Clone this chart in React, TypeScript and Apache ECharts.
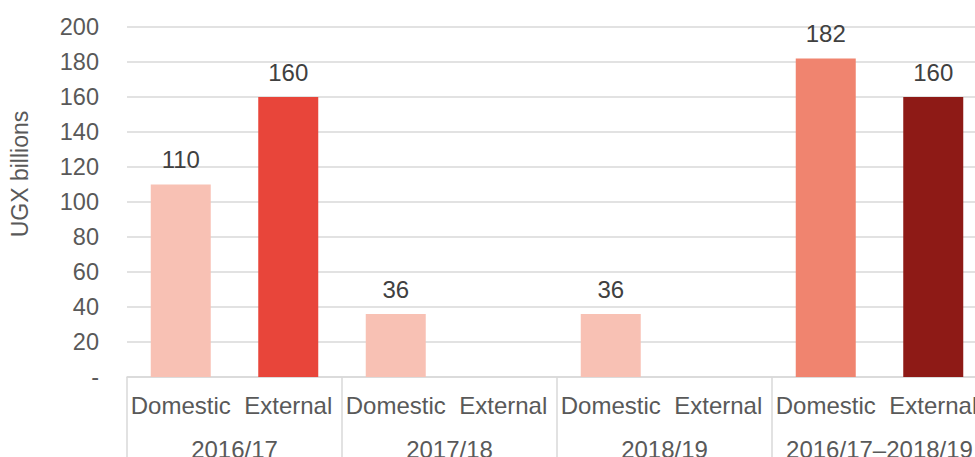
import React, { useEffect, useRef } from "react";
import * as echarts from "echarts";

// Funding by source and year, UGX billions
const years = ["2016/17", "2017/18", "2018/19", "2016/17–2018/19"];
const sources = ["Domestic", "External"];
const categories = years.flatMap((y) => sources.map((s) => `${s}|${y}`));
const values: (number | null)[] = [110, 160, 36, null, 36, null, 182, 160];
const barColors = ["#F8C1B4", "#E8453A", "#F8C1B4", "#E8453A", "#F8C1B4", "#E8453A", "#F0846F", "#8E1A16"];
const yTicks = { min: 0, max: 200, interval: 20 };

const FONT = "Liberation Sans, Arial, sans-serif";
const FS = 24;

export default function App() {
  const ref = useRef<HTMLDivElement>(null);

  useEffect(() => {
    if (!ref.current) return;
    const chart = echarts.init(ref.current, null, { renderer: "svg" });
    chart.setOption({
      animation: false,
      backgroundColor: "#ffffff",
      textStyle: { fontFamily: FONT },
      grid: {
        left: 127,
        right: 0,
        top: 27,
        bottom: 80,
        containLabel: false,
        outerBoundsMode: "none",
      },
      xAxis: [
        {
          type: "category",
          data: categories,
          position: "bottom",
          axisLine: { show: true, lineStyle: { color: "#d9d9d9", width: 1.5 } },
          axisTick: {
            show: true,
            length: 80,
            interval: (i: number) => i % 2 === 0,
            lineStyle: { color: "#d9d9d9", width: 1.5 },
          },
          axisLabel: {
            interval: 0,
            margin: 16,
            color: "#595959",
            fontSize: FS,
            fontFamily: FONT,
            formatter: (v: string) => v.split("|")[0],
          },
        },
        {
          type: "category",
          data: years,
          position: "bottom",
          gridIndex: 0,
          axisLine: { show: false },
          axisTick: { show: false },
          axisLabel: {
            interval: 0,
            margin: 60,
            color: "#595959",
            fontSize: FS,
            fontFamily: FONT,
          },
        },
      ],
      yAxis: {
        type: "value",
        min: yTicks.min,
        max: yTicks.max,
        interval: yTicks.interval,
        axisLine: { show: false },
        axisTick: { show: false },
        splitLine: { lineStyle: { color: "#d9d9d9", width: 1.5 } },
        axisLabel: {
          margin: 28,
          color: "#595959",
          fontSize: FS - 0.5,
          fontFamily: FONT,
          formatter: (v: number) => (v === 0 ? "-" : String(v)),
        },
      },
      graphic: [
        {
          type: "text",
          x: 20,
          y: 174,
          rotation: Math.PI / 2,
          style: {
            text: "UGX billions",
            fill: "#595959",
            font: `23px ${FONT}`,
            textAlign: "center",
            textVerticalAlign: "middle",
          },
        },
      ],
      series: [
        {
          type: "bar",
          xAxisIndex: 0,
          barWidth: 60,
          data: values.map((v, i) => ({
            value: v,
            itemStyle: { color: barColors[i] },
          })),
          label: {
            show: true,
            position: "top",
            distance: 13,
            color: "#404040",
            fontSize: FS,
            fontFamily: FONT,
            formatter: (p: any) => (p.value == null ? "" : String(p.value)),
          },
        },
      ],
    });
    return () => chart.dispose();
  }, []);

  // The plot runs slightly past the right edge; the wrapper clips it.
  return (
    <div
      style={{
        position: "fixed",
        left: 0,
        top: 0,
        width: 975,
        height: 457,
        overflow: "hidden",
      }}
    >
      <div ref={ref} style={{ width: 987, height: 457 }} />
    </div>
  );
}
